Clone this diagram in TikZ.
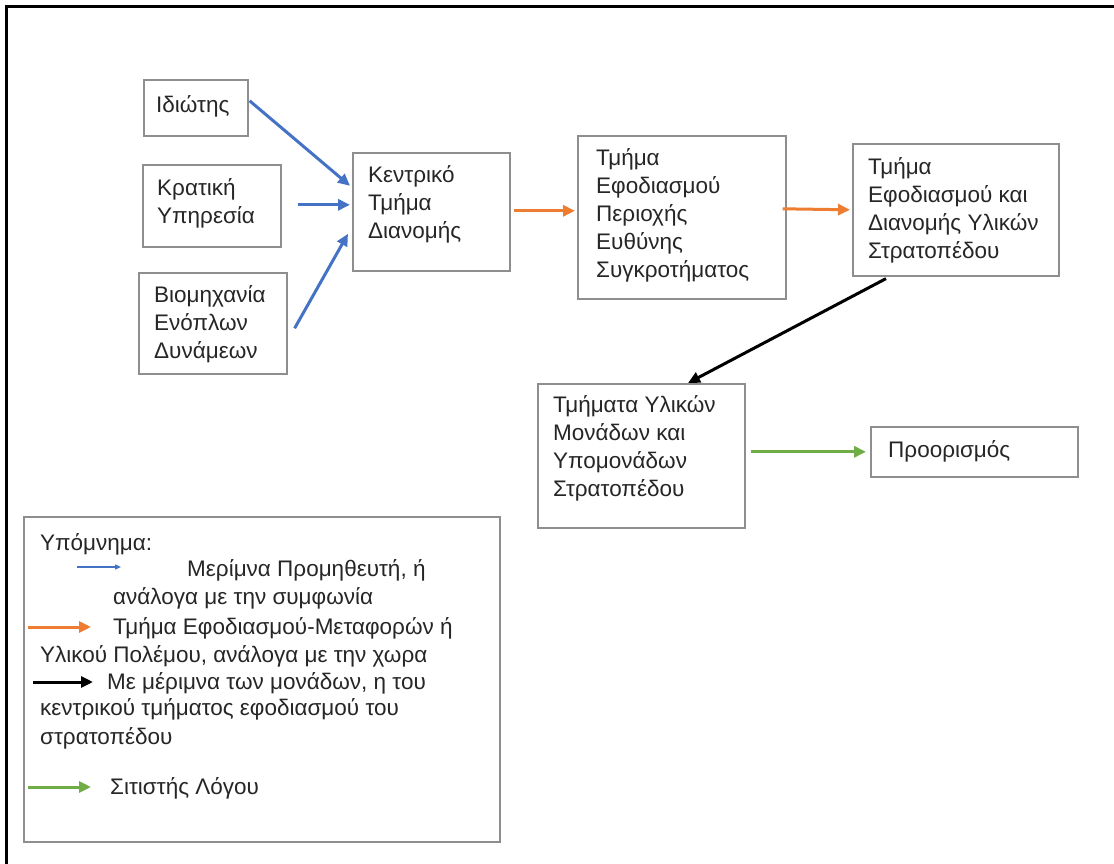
\documentclass[tikz,border=0pt]{standalone}
\usepackage{fontspec}
\setmainfont{Liberation Sans}
\usetikzlibrary{arrows.meta,calc}
\definecolor{bxgray}{HTML}{8E8E8E}
\definecolor{cblue}{HTML}{4472C4}
\definecolor{corange}{HTML}{ED7D31}
\definecolor{cgreen}{HTML}{70AD47}
\definecolor{txtc}{HTML}{262626}
\newcommand\fl{\rule{0pt}{17pt}}
\begin{document}
\begin{tikzpicture}[x=1pt,y=-1pt,
  box/.style={draw=bxgray, line width=1.6pt, anchor=north west, inner sep=0pt},
  txt/.style={anchor=north west, inner sep=0pt, align=left, text=txtc,
    font=\fontsize{22.5}{28}\selectfont},
  ltxt/.style={anchor=base west, inner sep=0pt, text=txtc,
    font=\fontsize{22.5}{28}\selectfont},
  arr/.style={line width=3pt, -{Triangle[length=12pt,width=11pt]}},
  blueline/.style={arr, draw=cblue},
  orangeline/.style={arr, draw=corange},
  blackline/.style={arr, draw=black},
  greenline/.style={arr, draw=cgreen},
]
\useasboundingbox (0,0) rectangle (1114,864);
\fill[white] (0,0) rectangle (1114,864);
% outer frame (top and left)
\draw[line width=3pt, line cap=rect] (6,864) -- (6,7) -- (1114,7);

% boxes
\node[box, minimum width=104pt, minimum height=56pt] (idiotis) at (143,79) {};
\node[box, minimum width=138pt, minimum height=82pt] (kratiki) at (142,164) {};
\node[box, minimum width=148pt, minimum height=101pt] (viom) at (138,272) {};
\node[box, minimum width=157pt, minimum height=118pt] (kentr) at (352,152) {};
\node[box, minimum width=208pt, minimum height=163pt] (perioxi) at (577,135) {};
\node[box, minimum width=206pt, minimum height=132pt] (stratop) at (852,143) {};
\node[box, minimum width=207pt, minimum height=144pt] (monades) at (537,383) {};
\node[box, minimum width=207pt, minimum height=50pt] (proor) at (870,426) {};
\node[box, minimum width=476pt, minimum height=325pt] (legend) at (23,516) {};

% box texts
\node[txt] (t-idiotis) at (156,95) {\fl Ιδιώτης};
\node[txt] (t-kratiki) at (157,178) {\fl Κρατική\\Υπηρεσία};
\node[txt] (t-viom) at (154,285) {\fl Βιομηχανία\\Ενόπλων\\Δυνάμεων};
\node[txt] (t-kentr) at (368,165) {\fl Κεντρικό\\Τμήμα\\Διανομής};
\node[txt] (t-perioxi) at (596,148) {\fl Τμήμα\\Εφοδιασμού\\Περιοχής\\Ευθύνης\\Συγκροτήματος};
\node[txt] (t-stratop) at (868,157) {\fl Τμήμα\\Εφοδιασμού και\\Διανομής Υλικών\\Στρατοπέδου};
\node[txt] (t-monades) at (553,395) {\fl Τμήματα Υλικών\\Μονάδων και\\Υπομονάδων\\Στρατοπέδου};
\node[txt] (t-proor) at (888,440) {\fl Προορισμός};

% connectors
\draw[blueline] ($(idiotis.east)+(1,-7)$) -- ($(kentr.west)+(-2,-26)$);
\draw[blueline] ($(kratiki.east)+(16,-1)$) -- ($(kentr.west)+(-2,-7)$);
\draw[blueline] ($(viom.east)+(7,5)$) -- ($(kentr.west)+(-4,22)$);
\draw[orangeline] ($(kentr.east)+(3,-1)$) -- ($(perioxi.west)+(-2,-6.5)$);
\draw[orangeline] ($(perioxi.east)+(-4,-8.5)$) -- ($(stratop.west)+(-2,0)$);
\draw[blackline] ($(stratop.south west)+(34,2)$) -- ($(monades.north west)+(151,0)$);
\draw[greenline] ($(monades.east)+(5,-4)$) -- ($(proor.west)+(-4,0)$);

% legend
\node[ltxt] (l-title) at (40,550) {Υπόμνημα:};
\coordinate (lb1) at (77,567); \coordinate (lb2) at (121,567);
\draw[draw=cblue, line width=1.3pt, -{Triangle[length=6pt,width=5pt]}] (lb1) -- (lb2);
\node[ltxt] (l-b1) at (187,576) {Μερίμνα Προμηθευτή, ή};
\node[ltxt] (l-b2) at (113,604) {ανάλογα με την συμφωνία};
\coordinate (lo1) at (28,627); \coordinate (lo2) at (91,627);
\draw[orangeline] (lo1) -- (lo2);
\node[ltxt] (l-o1) at (113,634) {Τμήμα Εφοδιασμού-Μεταφορών ή};
\node[ltxt] (l-o2) at (40,662) {Υλικού Πολέμου, ανάλογα με την χωρα};
\coordinate (lk1) at (33,682); \coordinate (lk2) at (93,682);
\draw[blackline] (lk1) -- (lk2);
\node[ltxt] (l-k1) at (107,689) {Με μέριμνα των μονάδων, η του};
\node[ltxt] (l-k2) at (40,715) {κεντρικού τμήματος εφοδιασμού του};
\node[ltxt] (l-k3) at (40,744) {στρατοπέδου};
\coordinate (lg1) at (28,787); \coordinate (lg2) at (91,787);
\draw[greenline] (lg1) -- (lg2);
\node[ltxt] (l-g1) at (110,794) {Σιτιστής Λόγου};
\end{tikzpicture}
\end{document}
